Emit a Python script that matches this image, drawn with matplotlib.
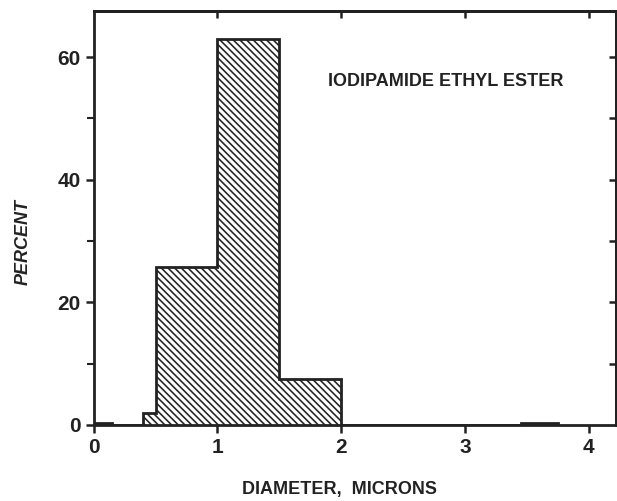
import numpy as np
import matplotlib.pyplot as plt
from matplotlib.ticker import MultipleLocator

# size distribution of the ester particles (percent per diameter bin)
bin_edges = [0.0, 0.15, 0.4, 0.5, 1.0, 1.5, 2.0, 3.45, 3.75]
percent = [0.3, 0.0, 2.0, 25.8, 63.0, 7.5, 0.0, 0.3]

x_ticks = [0, 1, 2, 3, 4]
y_ticks = [0, 20, 40, 60]

plt.rcParams['font.family'] = ['Liberation Sans', 'DejaVu Sans']
plt.rcParams['hatch.linewidth'] = 1.15
ink = '#222222'

fig = plt.figure(figsize=(6.17, 5.01), dpi=100)
ax = fig.add_axes([0.152, 0.152, 0.846, 0.826])

# hatched histogram, outlined as one step shape
ax.stairs(percent, bin_edges, fill=True, facecolor='white', edgecolor=ink,
          hatch='\\\\\\\\\\', linewidth=0)
ax.stairs(percent, bin_edges, baseline=0, color=ink, linewidth=2)

ax.set_xlim(0, 4.22)
ax.set_ylim(0, 67.5)
ax.set_xticks(x_ticks)
ax.set_yticks(y_ticks)
ax.yaxis.set_minor_locator(MultipleLocator(10))

for s in ax.spines.values():
    s.set_linewidth(2)
    s.set_color(ink)

ax.tick_params(axis='both', which='major', direction='out', length=6, width=1.8,
               labelsize=15, colors=ink)
ax.tick_params(axis='y', which='minor', direction='out', length=5, width=1.5,
               colors=ink)
for lab in ax.get_xticklabels() + ax.get_yticklabels():
    lab.set_fontweight('bold')

# inward ticks on the top and right frame
top = ax.secondary_xaxis('top')
top.set_xticks([1, 2, 3, 4])
top.tick_params(direction='in', length=5, width=1.8, colors=ink, labeltop=False)
top.spines['top'].set_linewidth(2)
right = ax.secondary_yaxis('right')
right.set_yticks(np.arange(10, 61, 10))
right.tick_params(direction='in', length=5, width=1.8, colors=ink, labelright=False)
right.spines['right'].set_linewidth(2)

ax.set_xlabel('DIAMETER,  MICRONS', fontsize=13, fontweight='bold', color=ink)
ax.xaxis.set_label_coords(0.471, -0.135)
ax.set_ylabel('PERCENT', fontsize=13, fontweight='bold', style='italic', color=ink)
ax.yaxis.set_label_coords(-0.119, 0.442)

ax.text(1.895, 56, 'IODIPAMIDE ETHYL ESTER', fontsize=13, fontweight='bold',
        color=ink, va='center')

fig.savefig('out.png', dpi=100)
